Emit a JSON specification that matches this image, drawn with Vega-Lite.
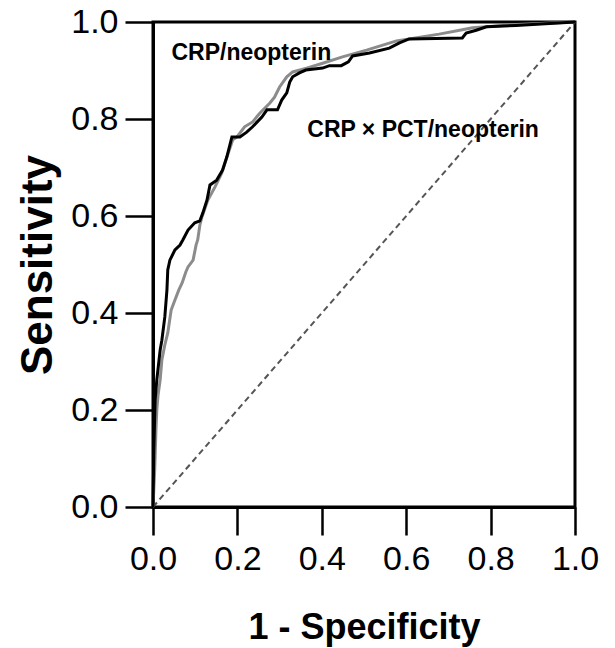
{
  "$schema": "https://vega.github.io/schema/vega-lite/v6.json",
  "width": 422,
  "height": 485,
  "autosize": {"type": "none"},
  "padding": {"left": 153, "top": 22, "right": 40, "bottom": 141},
  "background": "white",
  "config": {
    "view": {"stroke": "black", "strokeWidth": 3},
    "font": "Liberation Sans",
    "axis": {
      "grid": false,
      "domainColor": "black",
      "domainWidth": 3,
      "tickColor": "black",
      "tickWidth": 2.5,
      "tickSize": 28,
      "labelColor": "black",
      "titleColor": "black",
      "labelFont": "Liberation Sans",
      "titleFont": "Liberation Sans",
      "titleFontWeight": "bold",
      "labelFlush": false,
      "labelOverlap": false
    }
  },
  "datasets": {
    "roc": [
      {"fpr": 0.0, "tpr": 0.0, "model": "CRP/neopterin"},
      {"fpr": 0.004, "tpr": 0.076, "model": "CRP/neopterin"},
      {"fpr": 0.007, "tpr": 0.159, "model": "CRP/neopterin"},
      {"fpr": 0.009, "tpr": 0.2, "model": "CRP/neopterin"},
      {"fpr": 0.012, "tpr": 0.231, "model": "CRP/neopterin"},
      {"fpr": 0.017, "tpr": 0.262, "model": "CRP/neopterin"},
      {"fpr": 0.021, "tpr": 0.303, "model": "CRP/neopterin"},
      {"fpr": 0.028, "tpr": 0.334, "model": "CRP/neopterin"},
      {"fpr": 0.035, "tpr": 0.359, "model": "CRP/neopterin"},
      {"fpr": 0.043, "tpr": 0.406, "model": "CRP/neopterin"},
      {"fpr": 0.052, "tpr": 0.427, "model": "CRP/neopterin"},
      {"fpr": 0.061, "tpr": 0.447, "model": "CRP/neopterin"},
      {"fpr": 0.069, "tpr": 0.462, "model": "CRP/neopterin"},
      {"fpr": 0.078, "tpr": 0.485, "model": "CRP/neopterin"},
      {"fpr": 0.083, "tpr": 0.495, "model": "CRP/neopterin"},
      {"fpr": 0.095, "tpr": 0.509, "model": "CRP/neopterin"},
      {"fpr": 0.102, "tpr": 0.54, "model": "CRP/neopterin"},
      {"fpr": 0.106, "tpr": 0.551, "model": "CRP/neopterin"},
      {"fpr": 0.111, "tpr": 0.581, "model": "CRP/neopterin"},
      {"fpr": 0.116, "tpr": 0.598, "model": "CRP/neopterin"},
      {"fpr": 0.13, "tpr": 0.633, "model": "CRP/neopterin"},
      {"fpr": 0.147, "tpr": 0.66, "model": "CRP/neopterin"},
      {"fpr": 0.163, "tpr": 0.689, "model": "CRP/neopterin"},
      {"fpr": 0.177, "tpr": 0.726, "model": "CRP/neopterin"},
      {"fpr": 0.189, "tpr": 0.757, "model": "CRP/neopterin"},
      {"fpr": 0.199, "tpr": 0.763, "model": "CRP/neopterin"},
      {"fpr": 0.217, "tpr": 0.784, "model": "CRP/neopterin"},
      {"fpr": 0.236, "tpr": 0.794, "model": "CRP/neopterin"},
      {"fpr": 0.253, "tpr": 0.812, "model": "CRP/neopterin"},
      {"fpr": 0.277, "tpr": 0.833, "model": "CRP/neopterin"},
      {"fpr": 0.288, "tpr": 0.845, "model": "CRP/neopterin"},
      {"fpr": 0.3, "tpr": 0.866, "model": "CRP/neopterin"},
      {"fpr": 0.317, "tpr": 0.887, "model": "CRP/neopterin"},
      {"fpr": 0.331, "tpr": 0.897, "model": "CRP/neopterin"},
      {"fpr": 0.364, "tpr": 0.905, "model": "CRP/neopterin"},
      {"fpr": 0.402, "tpr": 0.915, "model": "CRP/neopterin"},
      {"fpr": 0.449, "tpr": 0.928, "model": "CRP/neopterin"},
      {"fpr": 0.506, "tpr": 0.942, "model": "CRP/neopterin"},
      {"fpr": 0.577, "tpr": 0.961, "model": "CRP/neopterin"},
      {"fpr": 0.678, "tpr": 0.975, "model": "CRP/neopterin"},
      {"fpr": 0.733, "tpr": 0.984, "model": "CRP/neopterin"},
      {"fpr": 0.757, "tpr": 0.988, "model": "CRP/neopterin"},
      {"fpr": 0.861, "tpr": 0.995, "model": "CRP/neopterin"},
      {"fpr": 1.0, "tpr": 1.0, "model": "CRP/neopterin"},
      {"fpr": 0.0, "tpr": 0.0, "model": "CRP × PCT/neopterin"},
      {"fpr": 0.002, "tpr": 0.118, "model": "CRP × PCT/neopterin"},
      {"fpr": 0.005, "tpr": 0.22, "model": "CRP × PCT/neopterin"},
      {"fpr": 0.009, "tpr": 0.262, "model": "CRP × PCT/neopterin"},
      {"fpr": 0.017, "tpr": 0.324, "model": "CRP × PCT/neopterin"},
      {"fpr": 0.021, "tpr": 0.344, "model": "CRP × PCT/neopterin"},
      {"fpr": 0.028, "tpr": 0.392, "model": "CRP × PCT/neopterin"},
      {"fpr": 0.033, "tpr": 0.447, "model": "CRP × PCT/neopterin"},
      {"fpr": 0.035, "tpr": 0.489, "model": "CRP × PCT/neopterin"},
      {"fpr": 0.04, "tpr": 0.509, "model": "CRP × PCT/neopterin"},
      {"fpr": 0.052, "tpr": 0.53, "model": "CRP × PCT/neopterin"},
      {"fpr": 0.064, "tpr": 0.54, "model": "CRP × PCT/neopterin"},
      {"fpr": 0.071, "tpr": 0.551, "model": "CRP × PCT/neopterin"},
      {"fpr": 0.083, "tpr": 0.571, "model": "CRP × PCT/neopterin"},
      {"fpr": 0.099, "tpr": 0.586, "model": "CRP × PCT/neopterin"},
      {"fpr": 0.111, "tpr": 0.59, "model": "CRP × PCT/neopterin"},
      {"fpr": 0.118, "tpr": 0.606, "model": "CRP × PCT/neopterin"},
      {"fpr": 0.128, "tpr": 0.633, "model": "CRP × PCT/neopterin"},
      {"fpr": 0.135, "tpr": 0.664, "model": "CRP × PCT/neopterin"},
      {"fpr": 0.151, "tpr": 0.674, "model": "CRP × PCT/neopterin"},
      {"fpr": 0.165, "tpr": 0.695, "model": "CRP × PCT/neopterin"},
      {"fpr": 0.175, "tpr": 0.722, "model": "CRP × PCT/neopterin"},
      {"fpr": 0.187, "tpr": 0.763, "model": "CRP × PCT/neopterin"},
      {"fpr": 0.206, "tpr": 0.763, "model": "CRP × PCT/neopterin"},
      {"fpr": 0.222, "tpr": 0.773, "model": "CRP × PCT/neopterin"},
      {"fpr": 0.236, "tpr": 0.784, "model": "CRP × PCT/neopterin"},
      {"fpr": 0.258, "tpr": 0.804, "model": "CRP × PCT/neopterin"},
      {"fpr": 0.27, "tpr": 0.819, "model": "CRP × PCT/neopterin"},
      {"fpr": 0.295, "tpr": 0.819, "model": "CRP × PCT/neopterin"},
      {"fpr": 0.305, "tpr": 0.839, "model": "CRP × PCT/neopterin"},
      {"fpr": 0.317, "tpr": 0.854, "model": "CRP × PCT/neopterin"},
      {"fpr": 0.324, "tpr": 0.876, "model": "CRP × PCT/neopterin"},
      {"fpr": 0.331, "tpr": 0.887, "model": "CRP × PCT/neopterin"},
      {"fpr": 0.347, "tpr": 0.895, "model": "CRP × PCT/neopterin"},
      {"fpr": 0.362, "tpr": 0.901, "model": "CRP × PCT/neopterin"},
      {"fpr": 0.402, "tpr": 0.905, "model": "CRP × PCT/neopterin"},
      {"fpr": 0.418, "tpr": 0.91, "model": "CRP × PCT/neopterin"},
      {"fpr": 0.446, "tpr": 0.91, "model": "CRP × PCT/neopterin"},
      {"fpr": 0.463, "tpr": 0.918, "model": "CRP × PCT/neopterin"},
      {"fpr": 0.473, "tpr": 0.93, "model": "CRP × PCT/neopterin"},
      {"fpr": 0.513, "tpr": 0.936, "model": "CRP × PCT/neopterin"},
      {"fpr": 0.56, "tpr": 0.946, "model": "CRP × PCT/neopterin"},
      {"fpr": 0.584, "tpr": 0.957, "model": "CRP × PCT/neopterin"},
      {"fpr": 0.607, "tpr": 0.965, "model": "CRP × PCT/neopterin"},
      {"fpr": 0.733, "tpr": 0.967, "model": "CRP × PCT/neopterin"},
      {"fpr": 0.742, "tpr": 0.977, "model": "CRP × PCT/neopterin"},
      {"fpr": 0.766, "tpr": 0.983, "model": "CRP × PCT/neopterin"},
      {"fpr": 0.79, "tpr": 0.99, "model": "CRP × PCT/neopterin"},
      {"fpr": 0.86, "tpr": 0.993, "model": "CRP × PCT/neopterin"},
      {"fpr": 1.0, "tpr": 1.0, "model": "CRP × PCT/neopterin"}
    ],
    "diag": [
      {"fpr": 0.0, "tpr": 0.0},
      {"fpr": 1.0, "tpr": 1.0}
    ],
    "labels": [
      {"fpr": 0.233, "tpr": 0.922, "text": "CRP/neopterin"},
      {"fpr": 0.64, "tpr": 0.763, "text": "CRP × PCT/neopterin"}
    ]
  },
  "encoding": {
    "x": {
      "field": "fpr", "type": "quantitative",
      "scale": {"domain": [0, 1], "nice": false, "zero": false},
      "axis": {
        "title": "1 - Specificity",
        "values": [0, 0.2, 0.4, 0.6, 0.8, 1.0],
        "format": ".1f",
        "labelFontSize": 34,
        "labelPadding": 7,
        "titleFontSize": 36,
        "titlePadding": 34
      }
    },
    "y": {
      "field": "tpr", "type": "quantitative",
      "scale": {"domain": [0, 1], "nice": false, "zero": false},
      "axis": {
        "title": "Sensitivity",
        "values": [0, 0.2, 0.4, 0.6, 0.8, 1.0],
        "format": ".1f",
        "labelFontSize": 34,
        "labelPadding": 7,
        "titleFontSize": 44,
        "titlePadding": 10
      }
    }
  },
  "layer": [
    {
      "data": {"name": "diag"},
      "mark": {"type": "line", "color": "#555555", "strokeWidth": 2, "strokeDash": [6, 4]},
      "encoding": {}
    },
    {
      "data": {"name": "roc"},
      "mark": {"type": "line", "strokeWidth": 3, "strokeJoin": "miter"},
      "encoding": {
        "color": {
          "field": "model", "type": "nominal",
          "scale": {"domain": ["CRP/neopterin", "CRP × PCT/neopterin"], "range": ["#8c8c8c", "#000000"]},
          "legend": null
        },
        "order": {"field": "fpr", "type": "quantitative"}
      }
    },
    {
      "data": {"name": "labels"},
      "mark": {"type": "text", "font": "Liberation Sans", "fontWeight": "bold", "fontSize": 23, "align": "center", "baseline": "alphabetic", "color": "black"},
      "encoding": {"text": {"field": "text", "type": "nominal"}}
    }
  ]
}
